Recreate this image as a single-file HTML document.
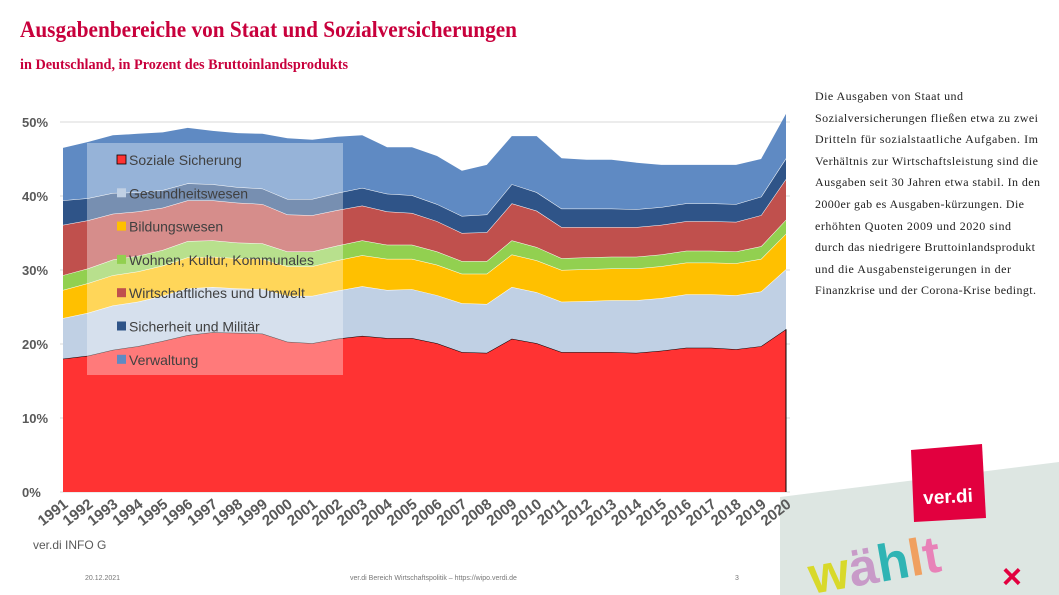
<!DOCTYPE html>
<html><head><meta charset="utf-8">
<style>
html,body{margin:0;padding:0;background:#fff;overflow:hidden;}
svg{display:block;}
.yt{font-family:"Liberation Sans",sans-serif;font-weight:bold;font-size:13px;fill:#595959;}
.xt{font-family:"Liberation Sans",sans-serif;font-weight:bold;font-size:15px;fill:#595959;}
.lg{font-family:"Liberation Sans",sans-serif;font-size:14px;fill:#404040;}
.rt{font-family:"Liberation Serif",serif;font-size:12px;fill:#222;}
</style></head>
<body>
<svg id="chart" width="1059" height="595" viewBox="0 0 1059 595" xmlns="http://www.w3.org/2000/svg">
  <g>
    <polygon points="780,497 1059,462 1059,595 780,595" fill="#dde6e2"/>
    <polygon points="911,450 982,444 986,518 914,522" fill="#e2003f"/>
    <text x="948" y="503" text-anchor="middle" font-family="Liberation Sans, sans-serif" font-weight="bold" font-size="19" fill="#fff" transform="rotate(-3 948 497)">ver.di</text>
    <text x="812" y="594" font-family="Liberation Sans, sans-serif" font-weight="bold" font-size="52" transform="rotate(-10 812 594)"><tspan fill="#d8d92a">w</tspan><tspan fill="#c89ac8">ä</tspan><tspan fill="#2fb4b4">h</tspan><tspan fill="#f0a060">l</tspan><tspan fill="#e882b8">t</tspan></text>
    <text x="1002" y="588" font-family="Liberation Sans, sans-serif" font-weight="bold" font-size="34" fill="#e2003f">×</text>
  </g>
  <text x="20" y="37" textLength="497" lengthAdjust="spacingAndGlyphs" font-family="Liberation Serif, serif" font-weight="bold" font-size="23" fill="#c8003c">Ausgabenbereiche von Staat und Sozialversicherungen</text>
  <text x="20" y="69" textLength="328" lengthAdjust="spacingAndGlyphs" font-family="Liberation Serif, serif" font-weight="bold" font-size="15" fill="#c8003c">in Deutschland, in Prozent des Bruttoinlandsprodukts</text>
  <g id="grid"></g>
  <g id="areas"></g>
  <g id="yticks"></g>
  <g id="xticks"></g>
  <g id="legend"></g>
  <g>
    <text class="rt" x="815" y="100" textLength="148">Die Ausgaben von Staat und</text>
    <text class="rt" x="815" y="122" textLength="223">Sozialversicherungen fließen etwa zu zwei</text>
    <text class="rt" x="815" y="143" textLength="223">Dritteln für sozialstaatliche Aufgaben. Im</text>
    <text class="rt" x="815" y="165" textLength="223">Verhältnis zur Wirtschaftsleistung sind die</text>
    <text class="rt" x="815" y="186" textLength="225">Ausgaben seit 30 Jahren etwa stabil. In den</text>
    <text class="rt" x="815" y="208" textLength="209">2000er gab es Ausgaben-kürzungen. Die</text>
    <text class="rt" x="815" y="230" textLength="196">erhöhten Quoten 2009 und 2020 sind</text>
    <text class="rt" x="815" y="251" textLength="220">durch das niedrigere Bruttoinlandsprodukt</text>
    <text class="rt" x="815" y="273" textLength="196">und die Ausgabensteigerungen  in der</text>
    <text class="rt" x="815" y="294" textLength="221">Finanzkrise und der Corona-Krise bedingt.</text>
  </g>
  <text x="33" y="549" font-family="Liberation Sans, sans-serif" font-size="12" fill="#595959">ver.di INFO G</text>
  <text x="85" y="580" font-family="Liberation Sans, sans-serif" font-size="7" fill="#777">20.12.2021</text>
  <text x="350" y="580" font-family="Liberation Sans, sans-serif" font-size="7" fill="#777">ver.di Bereich Wirtschaftspolitik – https://wipo.verdi.de</text>
  <text x="735" y="580" font-family="Liberation Sans, sans-serif" font-size="7" fill="#777">3</text>
</svg>
<script>
const years = [1991,1992,1993,1994,1995,1996,1997,1998,1999,2000,2001,2002,2003,2004,2005,2006,2007,2008,2009,2010,2011,2012,2013,2014,2015,2016,2017,2018,2019,2020];
const seriesNames = ["Soziale Sicherung","Gesundheitswesen","Bildungswesen","Wohnen, Kultur, Kommunales","Wirtschaftliches und Umwelt","Sicherheit und Militär","Verwaltung"];
const soziale = [18.0,18.4,19.2,19.7,20.4,21.2,21.6,21.5,21.4,20.3,20.1,20.7,21.1,20.8,20.8,20.1,18.9,18.8,20.7,20.1,18.9,18.9,18.9,18.8,19.1,19.5,19.5,19.3,19.7,22.0];
const gesundheit = [5.5,5.8,6.0,6.0,6.1,6.3,6.1,6.0,6.0,6.2,6.4,6.5,6.7,6.5,6.6,6.5,6.6,6.6,7.0,6.9,6.8,6.9,7.0,7.1,7.1,7.2,7.2,7.3,7.4,8.1];
const bildung = [3.8,4.0,4.1,4.1,4.1,4.2,4.1,4.1,4.1,4.0,4.0,4.1,4.2,4.2,4.1,4.1,4.0,4.1,4.4,4.3,4.3,4.3,4.3,4.3,4.3,4.3,4.3,4.3,4.4,4.8];
const wohnen = [2.0,2.0,2.1,2.1,2.1,2.2,2.2,2.1,2.1,2.0,2.0,2.0,2.0,1.9,1.9,1.8,1.7,1.7,1.9,1.8,1.6,1.6,1.6,1.6,1.6,1.6,1.6,1.6,1.7,1.9];
const wirtschaft = [6.8,6.5,6.2,6.0,5.7,5.5,5.4,5.4,5.3,5.0,4.9,4.8,4.7,4.5,4.3,4.1,3.8,3.9,5.0,4.9,4.2,4.1,4.0,4.0,4.0,4.0,4.0,4.0,4.2,5.5];
const sicherheit = [3.3,3.0,2.8,2.6,2.4,2.3,2.2,2.1,2.1,2.1,2.2,2.3,2.4,2.4,2.4,2.3,2.3,2.4,2.6,2.5,2.5,2.5,2.5,2.4,2.4,2.4,2.4,2.4,2.5,2.8];
const verwaltung = [7.1,7.6,7.8,7.9,7.8,7.5,7.2,7.3,7.4,8.2,8.0,7.6,7.1,6.3,6.5,6.5,6.1,6.7,6.5,7.6,6.8,6.6,6.6,6.3,5.7,5.2,5.2,5.3,5.1,6.0];
const yTicks = [0,10,20,30,40,50];
const yTickLabels = ["0%","10%","20%","30%","40%","50%"];

const NS = "http://www.w3.org/2000/svg";
const X0 = 63, X1 = 786, Y0 = 492, Y50 = 122;
function xs(i){ return X0 + (X1 - X0) * i / (years.length - 1); }
function ys(v){ return Y0 - (Y0 - Y50) * v / 50; }
function mk(tag, attrs, parent){ const e = document.createElementNS(NS, tag); for (const k in attrs) e.setAttribute(k, attrs[k]); parent.appendChild(e); return e; }

const grid = document.getElementById('grid');
const yt = document.getElementById('yticks');
yTicks.forEach((v, i) => {
  const l = mk('line', {x1: 60, x2: 790, y1: ys(v), y2: ys(v), stroke: '#d9d9d9', 'stroke-width': 1}, grid);
  
  
  const t = mk('text', {x: 22, y: ys(v) + 5, class: 'yt'}, yt);
  t.textContent = yTickLabels[i];
  
  
});

const series = [soziale, gesundheit, bildung, wohnen, wirtschaft, sicherheit, verwaltung];
const colors = ["#ff3333","#c0d0e4","#ffc000","#92d050","#c0504d","#2f5488","#5f8ac3"];
const areaNames = ["area-soziale-sicherung","area-gesundheitswesen","area-bildungswesen","area-wohnen-kultur","area-wirtschaft-umwelt","area-sicherheit-militaer","area-verwaltung"];
const areas = document.getElementById('areas');
let base = years.map(() => 0);
series.forEach((s, k) => {
  const top = base.map((b, i) => b + s[i]);
  let d = '';
  top.forEach((v, i) => { d += (i ? 'L' : 'M') + xs(i).toFixed(1) + ',' + ys(v).toFixed(1); });
  for (let i = years.length - 1; i >= 0; i--) d += 'L' + xs(i).toFixed(1) + ',' + ys(base[i]).toFixed(1);
  d += 'Z';
  const p = mk('path', {d: d, fill: colors[k], stroke: 'none'}, areas);
  
  
  let ld = '';
  top.forEach((v, i) => { ld += (i ? 'L' : 'M') + xs(i).toFixed(1) + ',' + ys(v).toFixed(1); });
  const ln = mk('path', {d: ld, fill: 'none', stroke: k === 0 ? '#000' : '#fff', 'stroke-width': k === 6 ? 0 : 1}, areas);
  
  
  base = top;
});
mk('line', {x1: X1, x2: X1, y1: ys(0), y2: ys(soziale[soziale.length-1]), stroke: '#000', 'stroke-width': 1}, areas);

const xt = document.getElementById('xticks');
years.forEach((y, i) => {
  const x = xs(i) + 6, yy = 506;
  const t = mk('text', {x: x, y: yy, class: 'xt', 'text-anchor': 'end', transform: `rotate(-38 ${x} ${yy})`}, xt);
  t.textContent = y;
  
  
});

const lg = document.getElementById('legend');
const box = mk('rect', {x: 87, y: 143, width: 256, height: 232, fill: '#fff', 'fill-opacity': 0.35}, lg);


seriesNames.forEach((n, k) => {
  const y = 160 + k * 33.3;
  const g = mk('g', {}, lg);
  
  
  mk('rect', {x: 117, y: y - 5, width: 9, height: 9, fill: colors[k], stroke: k === 0 ? '#000' : 'none', 'stroke-width': 0.8}, g);
  const t = mk('text', {x: 129, y: y + 5, class: 'lg'}, g);
  t.textContent = n;
});
</script>
</body></html>
